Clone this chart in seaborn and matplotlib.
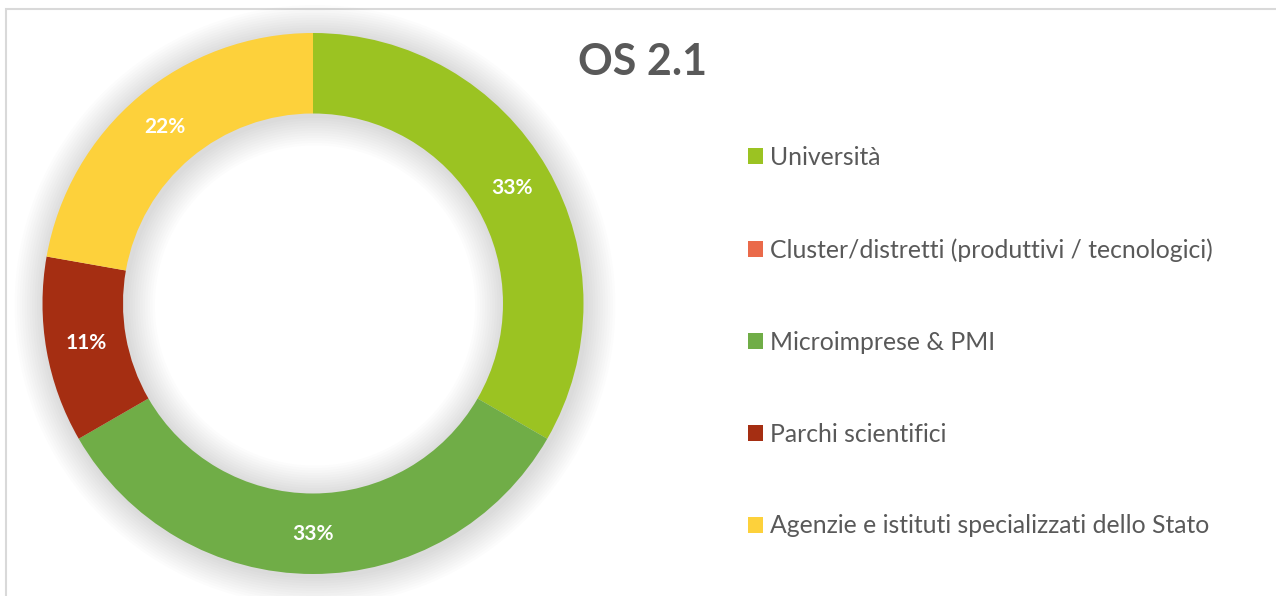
import matplotlib
matplotlib.use("Agg")
import matplotlib.pyplot as plt
from matplotlib.patches import Wedge, Rectangle
import seaborn as sns
import numpy as np

sns.set_theme(style="white")
plt.rcParams['font.family'] = ['Lato', 'DejaVu Sans']

categories = ["Università", "Cluster/distretti (produttivi / tecnologici)",
              "Microimprese & PMI", "Parchi scientifici",
              "Agenzie e istituti specializzati dello Stato"]
counts = [3, 0, 3, 1, 2]
colors = ["#9BC322", "#EA6A4A", "#70AD47", "#A52E12", "#FDD13B"]
title = "OS 2.1"

W, H = 1276, 596
fig = plt.figure(figsize=(W / 100, H / 100), dpi=100)
ax = fig.add_axes([0, 0, 1, 1])
ax.set_xlim(0, W)
ax.set_ylim(0, H)
ax.set_aspect("equal")
ax.axis("off")

cx, cy = 313, H - 303.5
R, r = 270.5, 190

# chart frame
ax.add_patch(Rectangle((6, -10), W + 20, H - 9 + 10, fill=False,
                       edgecolor="#d9d9d9", linewidth=1.5))

# soft shadow around the ring
for i in range(1, 13):
    ro = R + 2.5 * i
    ri = r - 2.5 * i
    ax.add_patch(Wedge((cx + 2, cy - 2), ro, 0, 360, width=ro - ri,
                       facecolor="black", alpha=0.013, linewidth=0))

total = sum(counts)
wedges, _ = ax.pie(counts, colors=colors, startangle=90, counterclock=False,
                   center=(cx, cy), radius=R,
                   wedgeprops=dict(width=R - r, linewidth=0))
ax.set_xlim(0, W)
ax.set_ylim(0, H)

start = 90.0
for v in counts:
    ang = 360.0 * v / total
    if v > 0:
        mid = np.deg2rad(start - ang / 2)
        rm = (R + r) / 2
        ax.text(cx + rm * np.cos(mid), cy + rm * np.sin(mid),
                f"{100 * v / total:.0f}%", color="white", fontsize=15,
                fontweight="bold", ha="center", va="center")
    start -= ang

fig.text(643 / W, 1 - 62 / H, title, fontsize=31, fontweight="bold",
         color="#595959", ha="center", va="center")

leg = ax.legend(wedges, categories, loc="upper left",
                bbox_to_anchor=(748 / W, 1 - 146 / H), frameon=False,
                fontsize=17.8, labelcolor="#595959", labelspacing=2.79,
                handlelength=0.6, handleheight=0.6, handletextpad=0.3,
                borderpad=0, borderaxespad=0)

fig.savefig("out.png", dpi=100)
